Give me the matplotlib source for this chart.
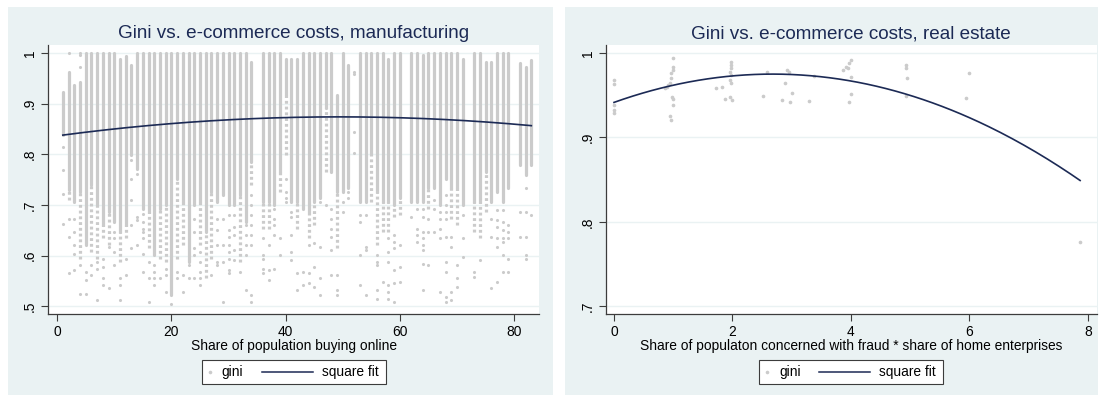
import numpy as np
import matplotlib.pyplot as plt
from matplotlib.patches import Rectangle
from matplotlib.lines import Line2D

plt.rcParams['font.family'] = ['Liberation Sans', 'DejaVu Sans']

nan = np.nan

# manufacturing: points stack in one column per integer share value
# top / bottom of the dense run, end of the thinner dotted run below, then loose points
mfg_x = [1, 2, 3, 4, 5, 6, 7, 8, 9, 10, 11, 12, 13, 14, 15, 16, 17, 18, 19, 20,
         21, 22, 23, 24, 25, 26, 27, 28, 29, 30, 31, 32, 33, 34, 36, 37, 38, 39, 40,
         41, 42, 43, 44, 45, 46, 47, 48, 49, 50, 51, 52, 53, 54, 55, 56, 57, 58, 59,
         60, 62, 63, 64, 65, 66, 67, 68, 69, 70, 71, 73, 74, 75, 76, 77, 78, 79, 81,
         82, 83]
mfg_top = [0.924, 0.963, 0.937, 0.943, 1.0, 1.0, 1.0, 1.0, 1.0, 1.0, 0.989, 0.995, 0.976,
           1.0, 1.0, 1.0, 1.0, 1.0, 1.0, 1.0, 1.0, 1.0, 1.0, 1.0, 1.0, 1.0, 1.0, 1.0, 1.0,
           1.0, 1.0, 1.0, 1.0, 0.983, 1.0, 1.0, 1.0, 1.0, 0.989, 0.989, 0.989, 1.0, 1.0,
           1.0, 1.0, 1.0, 1.0, 0.917, 1.0, 0.976, nan, 1.0, 1.0, 1.0, 1.0, 1.0, 0.989, 1.0,
           1.0, 1.0, 1.0, 0.996, 1.0, 1.0, 1.0, 1.0, 1.0, 1.0, 0.989, 1.0, 1.0, 0.983,
           0.983, 1.0, 1.0, 1.0, 0.980, 0.973, 0.986]
mfg_dense_low = [0.838, 0.730, 0.706, 0.726, 0.621, 0.739, 0.700, 0.660, 0.686, 0.667, 0.647,
                 0.660, 0.798, 0.772, 0.693, 0.686, 0.601, 0.693, 0.700, 0.522, 0.752, 0.706,
                 0.588, 0.700, 0.706, 0.647, 0.726, 0.706, 0.719, 0.700, 0.700, 0.719, 0.667,
                 0.785, 0.706, 0.706, 0.700, 0.765, 0.917, 0.706, 0.706, 0.693, 0.686, 0.706,
                 0.713, 0.891, 0.765, 0.726, 0.726, 0.733, nan, 0.706, 0.706, 0.802, 0.726,
                 0.706, 0.706, 0.700, 0.713, 0.706, 0.706, 0.706, 0.733, 0.733, 0.700, 0.752,
                 0.733, 0.733, 0.700, 0.706, 0.706, 0.765, 0.706, 0.726, 0.706, 0.733, 0.779,
                 0.759, 0.779]
mfg_sparse_low = [nan, 0.709, nan, 0.594, nan, 0.607, 0.594, 0.634, 0.621, nan, 0.588, 0.634,
                  nan, nan, nan, 0.614, nan, 0.594, 0.588, nan, 0.594, 0.621, nan, nan, 0.621,
                  0.555, 0.594, nan, nan, nan, nan, 0.588, nan, 0.739, 0.653, 0.653, nan, 0.726,
                  0.798, nan, 0.653, nan, 0.634, 0.660, nan, 0.765, nan, 0.614, nan, nan, nan,
                  nan, nan, 0.706, 0.621, 0.647, 0.647, 0.677, 0.680, nan, nan, nan, 0.693, nan,
                  nan, nan, 0.673, 0.660, nan, 0.647, 0.634, 0.686, nan, nan, nan, nan, nan,
                  nan, nan]
mfg_loose = [[0.815, 0.769, 0.721, 0.663], [1.0, 0.673, 0.637, 0.565],
             [0.673, 0.647, 0.621, 0.604, 0.571], [1.0, 0.996, 0.973, 0.581, 0.525],
             [0.568, 0.551, 0.525], [0.581, 0.561], [0.588, 0.574, 0.512],
             [0.594, 0.578, 0.555, 0.541], [0.617, 0.535], [0.647, 0.634, 0.607, 0.581],
             [0.555, 0.541, 0.512], [0.594, 0.561], [0.789, 0.752, 0.709, 0.660, 0.614],
             [0.762, 0.677, 0.670, 0.621], [0.683, 0.667, 0.653, 0.647, 0.634, 0.604, 0.568],
             [0.588, 0.555, 0.509], [0.581, 0.568, 0.555, 0.541], [0.555],
             [0.574, 0.561, 0.528], [0.505], [0.568, 0.555], [0.561, 0.528], [0.581, 0.555],
             [0.673, 0.647, 0.614, 0.601, 0.555], [0.607, 0.588, 0.568, 0.555, 0.541], [],
             [0.561], [0.673, 0.650, 0.621, 0.588, 0.581], [0.673, 0.621, 0.588, 0.509],
             [0.680, 0.650, 0.637, 0.621, 0.607, 0.594, 0.571, 0.565],
             [0.680, 0.657, 0.640, 0.611, 0.591], [0.568], [0.660, 0.640, 0.621, 0.601, 0.532],
             [0.719, 0.700, 0.680, 0.660, 0.640, 0.621, 0.522, 0.509],
             [0.634, 0.601, 0.594, 0.574, 0.565], [0.621, 0.571, 0.551],
             [0.693, 0.673, 0.660, 0.640, 0.574], [0.634, 0.601], [0.752, 0.726, 0.713, 0.706],
             [0.686, 0.677, 0.640, 0.607, 0.591], [0.565, 0.532], [0.568, 0.541],
             [0.621, 0.565, 0.545], [0.624, 0.578, 0.538], [0.706, 0.617, 0.555, 0.522],
             [0.700], [0.693, 0.673, 0.653, 0.637, 0.611, 0.561], [0.561, 0.532, 0.522],
             [0.706, 0.686], [0.726, 0.713], [0.963, 0.959, 0.845, 0.802],
             [0.680, 0.667, 0.601, 0.541], [0.680, 0.617, 0.611, 0.522], [],
             [0.601, 0.588, 0.581, 0.532, 0.515], [0.548],
             [0.634, 0.607, 0.588, 0.541, 0.528, 0.515],
             [0.640, 0.627, 0.614, 0.571, 0.545, 0.509], [0.621, 0.578, 0.548], [0.677],
             [0.693, 0.653, 0.640, 0.627], [0.693, 0.677, 0.647, 0.634, 0.621, 0.611, 0.584, 0.532],
             [0.673, 0.647, 0.581], [0.709, 0.693, 0.647], [0.686, 0.673, 0.653, 0.634, 0.528],
             [0.719, 0.700, 0.686, 0.673, 0.637, 0.588, 0.568, 0.518, 0.509],
             [0.637, 0.617, 0.528, 0.512], [0.581, 0.555, 0.538], [0.680, 0.634, 0.597],
             [0.568, 0.558], [0.591], [], [0.673, 0.637, 0.535],
             [0.690, 0.670, 0.657, 0.634, 0.617, 0.548],
             [0.690, 0.667, 0.650, 0.634, 0.627, 0.601, 0.568],
             [0.660, 0.647, 0.634, 0.594, 0.568], [0.686, 0.637],
             [0.733, 0.686, 0.637, 0.601, 0.594], [0.680]]
mfg_fit = [0.8365, 0.0015186, -1.537e-5]   # quadratic fit, constant first

# real estate
re_x = [0.0, 0.0, 0.0, 0.0, 0.0,
        1.0, 1.0, 0.99, 0.97, 0.96, 0.95, 0.92, 0.89, 0.86, 0.98, 1.0, 1.0, 0.95, 0.97,
        1.73, 1.82, 1.88, 1.96, 1.99, 1.98, 1.97, 1.98, 1.96, 1.97, 1.96, 1.97,
        2.58, 2.51, 2.92, 2.95, 2.89, 3.0, 2.83, 2.97, 3.29, 3.38,
        3.87, 3.92, 3.97, 4.0, 3.95, 4.0, 4.0, 3.96,
        4.93, 4.93, 4.95, 4.93, 6.0, 5.95, 7.87]
re_y = [0.968, 0.963, 0.938, 0.933, 0.929,
        0.994, 0.984, 0.980, 0.976, 0.970, 0.964, 0.962, 0.960, 0.958, 0.948, 0.946, 0.938, 0.925, 0.921,
        0.958, 0.960, 0.946, 0.948, 0.944, 0.989, 0.986, 0.982, 0.978, 0.974, 0.968, 0.964,
        0.977, 0.949, 0.980, 0.978, 0.964, 0.953, 0.944, 0.942, 0.943, 0.973,
        0.980, 0.984, 0.988, 0.992, 0.982, 0.972, 0.951, 0.942,
        0.986, 0.982, 0.971, 0.949, 0.976, 0.947, 0.776]
re_fit = [0.9415, 0.02504, -0.004675]

W, H = 1103, 398
bg = '#eaf2f3'
gray = '#cbcbcb'
navy = '#1c2a55'
axcol = '#3c3c3c'
fs = 9.9

fig = plt.figure(figsize=(W / 100, H / 100), dpi=100)
fig.patch.set_facecolor('white')
fig.patches.append(Rectangle((8 / W, 1 - 395 / H), 545 / W, 388 / H, transform=fig.transFigure,
                             facecolor=bg, edgecolor='none', zorder=-10))
fig.patches.append(Rectangle((565 / W, 1 - 395 / H), 533 / W, 388 / H, transform=fig.transFigure,
                             facecolor=bg, edgecolor='none', zorder=-10))

ax1 = fig.add_axes([48 / W, 1 - 314.3 / H, 491.3 / W, 269.3 / H])
ax2 = fig.add_axes([605.7 / W, 1 - 314.3 / H, 491 / W, 269.3 / H])


def style(ax, yticks, ylabels, title, xlabel):
    ax.set_facecolor('white')
    for s in ['top', 'right']:
        ax.spines[s].set_visible(False)
    for s in ['left', 'bottom']:
        ax.spines[s].set_color(axcol)
        ax.spines[s].set_linewidth(0.9)
    ax.set_yticks(yticks)
    ax.set_yticklabels(ylabels, rotation=90, va='center')
    ax.yaxis.grid(True, color=bg, lw=1.0)
    ax.set_axisbelow(True)
    ax.tick_params(direction='out', length=5, width=0.8, color=axcol, labelsize=fs, pad=3)
    ax.set_title(title, fontsize=13.6, color=navy, pad=5)
    ax.set_xlabel(xlabel, fontsize=fs, labelpad=0)


# left panel
xs = np.array(mfg_x, dtype=float)
top = np.array(mfg_top)
low = np.array(mfg_dense_low)
slow = np.array(mfg_sparse_low)
ax1.vlines(xs, low, top, color=gray, lw=2.3, zorder=2)
ax1.scatter(np.r_[xs, xs], np.r_[top, low], s=5, color=gray, linewidths=0, zorder=2)
has = ~np.isnan(slow)
ax1.vlines(xs[has], slow[has], low[has], color=gray, lw=2.3,
           linestyles=(0, (0.9, 0.9)), zorder=2)
lx = [x for x, ys in zip(mfg_x, mfg_loose) for _ in ys]
ly = [y for ys in mfg_loose for y in ys]
ax1.scatter(lx, ly, s=5, color=gray, linewidths=0, zorder=2)
fx = np.linspace(min(mfg_x), max(mfg_x), 200)
ax1.plot(fx, np.polyval(mfg_fit[::-1], fx), color=navy, lw=1.2, zorder=3)
ax1.set_xlim(-1.6, 84.4)
ax1.set_ylim(0.484, 1.016)
ax1.set_xticks([0, 20, 40, 60, 80])
style(ax1, [0.5, 0.6, 0.7, 0.8, 0.9, 1.0], ['.5', '.6', '.7', '.8', '.9', '1'],
      'Gini vs. e-commerce costs, manufacturing', 'Share of population buying online')

# right panel
ax2.scatter(re_x, re_y, s=7, color=gray, linewidths=0, zorder=2)
fx = np.linspace(min(re_x), max(re_x), 200)
ax2.plot(fx, np.polyval(re_fit[::-1], fx), color=navy, lw=1.2, zorder=3)
ax2.set_xlim(-0.14, 8.15)
ax2.set_ylim(0.6905, 1.0095)
ax2.set_xticks([0, 2, 4, 6, 8])
style(ax2, [0.7, 0.8, 0.9, 1.0], ['.7', '.8', '.9', '1'],
      'Gini vs. e-commerce costs, real estate',
      'Share of populaton concerned with fraud * share of home enterprises')


def legend(left):
    y = 1 - 372 / H
    fig.patches.append(Rectangle((left / W, 1 - 384 / H), 184.3 / W, 24 / H,
                                 transform=fig.transFigure, facecolor='white',
                                 edgecolor=axcol, lw=0.8, zorder=1))
    fig.add_artist(Line2D([(left + 8.3) / W], [y], marker='o', ms=2.6, color=gray,
                          mec='none', transform=fig.transFigure))
    fig.text((left + 20) / W, y, 'gini', fontsize=fs, va='center', ha='left')
    fig.add_artist(Line2D([(left + 60) / W, (left + 111.5) / W], [y, y], color=navy,
                          lw=1.1, transform=fig.transFigure))
    fig.text((left + 120) / W, y, 'square fit', fontsize=fs, va='center', ha='left')


legend(201.7)
legend(759)

fig.savefig('out.png', dpi=100, facecolor='white')
